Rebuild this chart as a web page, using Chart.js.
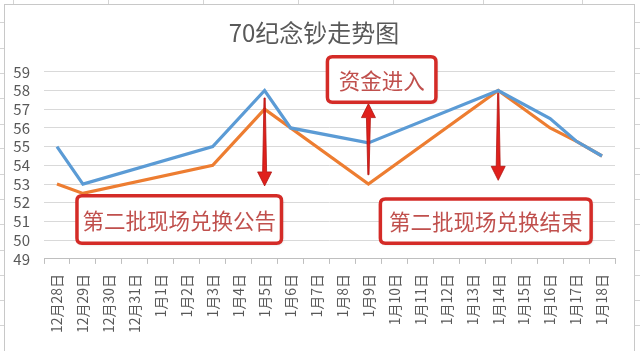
<!DOCTYPE html>
<html>
<head>
<meta charset="utf-8">
<script src="https://cdn.jsdelivr.net/npm/chart.js@4/dist/chart.umd.min.js"></script>
<style>
  html, body { margin: 0; padding: 0; background: #fff; }
  #wrap { width: 640px; height: 351px; }
</style>
</head>
<body>
<div id="wrap"><canvas id="TrendChart" width="640" height="351"></canvas></div>
<script>
// categories (dates)
const dates = ['12月28日', '12月29日', '12月30日', '12月31日', '1月1日', '1月2日', '1月3日',
  '1月4日', '1月5日', '1月6日', '1月7日', '1月8日', '1月9日', '1月10日', '1月11日',
  '1月12日', '1月13日', '1月14日', '1月15日', '1月16日', '1月17日', '1月18日'];

// series values (null = no point, line spans across)
const series1 = [55, 53, null, null, null, null, 55, null, 58, 56, null, null, 55.2,
  null, null, null, null, 58, null, 56.5, 55.3, 54.5];
const series2 = [53, 52.5, null, null, null, null, 54, null, 57, null, null, null, 53,
  null, null, null, null, 58, null, 56, 55.3, 54.5];

const yTicks = [49, 50, 51, 52, 53, 54, 55, 56, 57, 58, 59];

// callouts: arrows anchored on a category, text boxes spanning category/value ranges
const arrows = [
  { at: 8, from: 57.6, to: 52.9 },
  { at: 12, from: 53.5, to: 57.3 },
  { at: 17, from: 57.85, to: 53.2 }
];
const notes = [
  { text: '第二批现场兑换公告', x0: 0.77, x1: 8.65, y0: 52.37, y1: 49.84 },
  { text: '资金进入', x0: 10.42, x1: 14.6, y0: 59.8, y1: 57.37 },
  { text: '第二批现场兑换结束', x0: 12.46, x1: 20.58, y0: 52.2, y1: 49.84 }
];

const FONT = '"Noto Sans CJK SC", "Noto Sans", sans-serif';

const sheetPlugin = {
  id: 'sheet',
  beforeDraw(chart) {
    const c = chart.ctx;
    c.save();
    c.fillStyle = '#ffffff';
    c.fillRect(0, 0, chart.width, chart.height);
    c.strokeStyle = '#d4d4d4';
    c.lineWidth = 1;
    // spreadsheet cell lines peeking outside the chart object
    c.beginPath();
    [13, 108, 203, 298, 393, 483, 582].forEach(x => { c.moveTo(x + 0.5, 0); c.lineTo(x + 0.5, 4); });
    [22, 48, 73, 98, 124, 148, 174, 199, 224, 250, 275, 300, 325].forEach(y => {
      c.moveTo(0, y + 0.5); c.lineTo(4, y + 0.5);
      c.moveTo(635, y + 0.5); c.lineTo(640, y + 0.5);
    });
    c.stroke();
    c.strokeStyle = '#c8c8c8';
    c.strokeRect(4.5, 4.5, 630, 360);
    c.restore();
  }
};

function roundRect(c, x, y, w, h, r) {
  c.beginPath();
  c.moveTo(x + r, y);
  c.lineTo(x + w - r, y);
  c.quadraticCurveTo(x + w, y, x + w, y + r);
  c.lineTo(x + w, y + h - r);
  c.quadraticCurveTo(x + w, y + h, x + w - r, y + h);
  c.lineTo(x + r, y + h);
  c.quadraticCurveTo(x, y + h, x, y + h - r);
  c.lineTo(x, y + r);
  c.quadraticCurveTo(x, y, x + r, y);
  c.closePath();
}

const calloutPlugin = {
  id: 'callouts',
  afterDatasetsDraw(chart) {
    const c = chart.ctx;
    const xs = chart.scales.x, ys = chart.scales.y;
    c.save();

    arrows.forEach(a => {
      const x = xs.getPixelForValue(a.at);
      const yTail = ys.getPixelForValue(a.from);
      const yTip = ys.getPixelForValue(a.to);
      const dir = yTip > yTail ? 1 : -1;
      const headLen = 14, headHalf = 7;
      const yBase = yTip - dir * headLen;
      c.fillStyle = '#e0201c';
      c.beginPath();
      c.moveTo(x - 0.6, yTail);
      c.lineTo(x + 0.6, yTail);
      c.lineTo(x + 2, yBase);
      c.lineTo(x + headHalf, yBase);
      c.lineTo(x, yTip);
      c.lineTo(x - headHalf, yBase);
      c.lineTo(x - 2, yBase);
      c.closePath();
      c.fill();
      c.strokeStyle = '#b01512';
      c.lineWidth = 0.8;
      c.stroke();
    });

    notes.forEach(n => {
      const x0 = xs.getPixelForValue(n.x0), x1 = xs.getPixelForValue(n.x1);
      const y0 = ys.getPixelForValue(n.y0), y1 = ys.getPixelForValue(n.y1);
      c.shadowColor = 'rgba(0,0,0,0.25)';
      c.shadowBlur = 3;
      c.shadowOffsetX = 1;
      c.shadowOffsetY = 1;
      roundRect(c, x0, y0, x1 - x0, y1 - y0, 5);
      c.fillStyle = '#ffffff';
      c.fill();
      c.shadowColor = 'transparent';
      c.lineWidth = 3.5;
      c.strokeStyle = '#d42b27';
      c.stroke();
      c.font = '21.5px ' + FONT;
      c.fillStyle = '#c0504d';
      c.textAlign = 'center';
      c.textBaseline = 'middle';
      c.fillText(n.text, (x0 + x1) / 2, (y0 + y1) / 2 + 1);
    });
    c.restore();
  }
};

const ctx = document.getElementById('TrendChart').getContext('2d');
new Chart(ctx, {
  type: 'line',
  data: {
    labels: dates,
    datasets: [{
      label: '系列1',
      data: series1,
      borderColor: '#5b9bd5',
      backgroundColor: '#5b9bd5',
      borderWidth: 3.2,
      pointRadius: 0,
      tension: 0,
      spanGaps: true
    }, {
      label: '系列2',
      data: series2,
      borderColor: '#ed7d31',
      backgroundColor: '#ed7d31',
      borderWidth: 3.2,
      pointRadius: 0,
      tension: 0,
      spanGaps: true
    }]
  },
  options: {
    responsive: false,
    animation: false,
    layout: { padding: { left: 13, right: 25, top: 0, bottom: 8 } },
    plugins: {
      legend: { display: false },
      tooltip: { enabled: false },
      title: {
        display: true,
        text: '70纪念钞走势图',
        color: '#595959',
        font: { family: FONT, size: 24, weight: 'normal' },
        padding: { top: 18, bottom: 25 }
      }
    },
    scales: {
      x: {
        offset: true,
        grid: {
          offset: true,
          drawOnChartArea: false,
          color: '#bfbfbf',
          tickLength: 5
        },
        border: { color: '#bfbfbf' },
        ticks: {
          autoSkip: false,
          minRotation: 90,
          maxRotation: 90,
          padding: 10,
          color: '#595959',
          font: { family: FONT, size: 14 }
        }
      },
      y: {
        min: 49,
        max: 59,
        afterBuildTicks: axis => { axis.ticks = yTicks.map(v => ({ value: v })); },
        afterFit: axis => { axis.width = 31; },
        grid: { color: '#d9d9d9', drawTicks: false },
        border: { display: false },
        ticks: {
          autoSkip: false,
          padding: 14,
          color: '#595959',
          font: { family: FONT, size: 15 }
        }
      }
    }
  },
  plugins: [sheetPlugin, calloutPlugin]
});
</script>
</body>
</html>
